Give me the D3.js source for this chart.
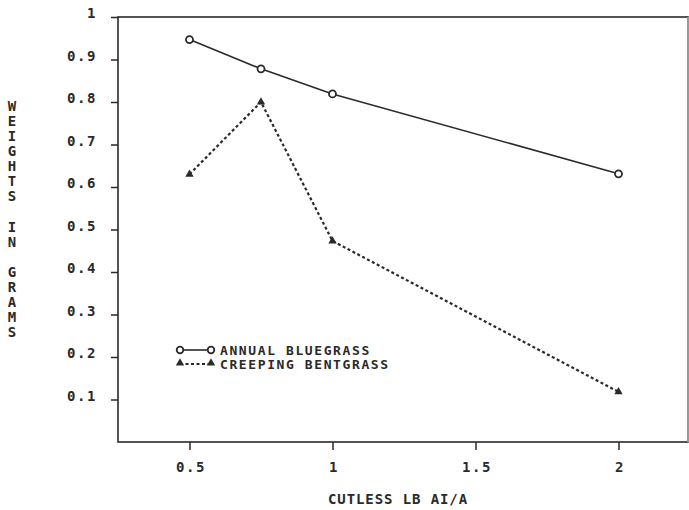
<!DOCTYPE html>
<html><head><meta charset="utf-8">
<script src="https://cdn.jsdelivr.net/npm/d3@7"></script>
<style>
html,body{margin:0;padding:0;background:#fff;}
text{font-family:"DejaVu Sans Mono",monospace;fill:#2a2a2a;font-weight:bold;}
</style></head>
<body><svg id="c" width="689" height="510"></svg>
<script>
const xValues = [0.5, 0.75, 1, 2];
const annualBluegrass = [0.947, 0.878, 0.819, 0.631];
const creepingBentgrass = [0.630, 0.800, 0.473, 0.118];
const seriesNames = ["ANNUAL BLUEGRASS", "CREEPING BENTGRASS"];
const xTicks = [0.5, 1, 1.5, 2];
const yTicks = [0.1,0.2,0.3,0.4,0.5,0.6,0.7,0.8,0.9,1];
const xTitle = "CUTLESS LB AI/A";
const yTitle = "WEIGHTS IN GRAMS";

const svg = d3.select("#c");
const x = d3.scaleLinear().domain([0.25, 2.25]).range([118, 690]);
const y = d3.scaleLinear().domain([0, 1]).range([442, 17]);
const ink = "#2a2a2a";
const tc = "#444";

// frame
svg.append("rect").attr("x", 118).attr("y", 17).attr("width", 570).attr("height", 425)
  .attr("fill", "none").attr("stroke", ink).attr("stroke-width", 1.6);
svg.append("line").attr("x1",688).attr("x2",688).attr("y1",17).attr("y2",442)
  .attr("stroke","#ddd").attr("stroke-width",1);

const yAxis = d3.axisLeft(y).tickValues(yTicks).tickSize(7).tickPadding(14)
  .tickFormat(d => d === 1 ? "1" : d3.format(".1f")(d));
const gy = svg.append("g").attr("transform", "translate(118,0)").call(yAxis);
gy.select(".domain").remove();
gy.selectAll(".tick line").attr("stroke", ink).attr("stroke-width", 1.5);
gy.selectAll(".tick text").attr("font-size", 14).attr("letter-spacing", 1.6).attr("dy", "0.05em")
  .attr("fill", tc);

const xAxis = d3.axisBottom(x).tickValues(xTicks).tickSize(8).tickPadding(12)
  .tickFormat(d => d3.format("")(d));
const gx = svg.append("g").attr("transform", "translate(0,442)").call(xAxis);
gx.select(".domain").remove();
gx.selectAll(".tick line").attr("stroke", ink).attr("stroke-width", 1.5);
gx.selectAll(".tick text").attr("font-size", 14).attr("letter-spacing", 1.6).attr("fill", tc)
  .attr("dx", 1);

// axis titles
svg.append("text").attr("x", 398).attr("y", 504).attr("text-anchor", "middle")
  .attr("font-size", 14).attr("letter-spacing", 0.9).attr("fill", tc).text(xTitle);
const chars = yTitle.split("");
svg.append("g").selectAll("text").data(chars).join("text")
  .attr("x", 12).attr("y", (d, i) => 111 + i * 15.07).attr("text-anchor", "middle")
  .attr("font-size", 14).attr("fill", tc).text(d => d);

// lines
const line = d3.line().x(d => x(d[0])).y(d => y(d[1]));
const abData = xValues.map((v, i) => [v, annualBluegrass[i]]);
const cbData = xValues.map((v, i) => [v, creepingBentgrass[i]]);
svg.append("path").datum(abData).attr("d", line).attr("fill", "none")
  .attr("stroke", ink).attr("stroke-width", 1.6);
svg.append("path").datum(cbData).attr("d", line).attr("fill", "none")
  .attr("stroke", ink).attr("stroke-width", 2.2).attr("stroke-dasharray", "3,2.5");

const tri = d3.symbol().type(d3.symbolTriangle).size(30);
svg.append("g").selectAll("circle").data(abData).join("circle")
  .attr("cx", d => x(d[0])).attr("cy", d => y(d[1])).attr("r", 3.5)
  .attr("fill", "#fff").attr("stroke", ink).attr("stroke-width", 1.8);
svg.append("g").selectAll("path").data(cbData).join("path")
  .attr("d", tri).attr("transform", d => `translate(${x(d[0])},${y(d[1])})`).attr("fill", ink);

// legend
const lg = svg.append("g");
lg.append("line").attr("x1", 180).attr("x2", 211).attr("y1", 350).attr("y2", 350)
  .attr("stroke", ink).attr("stroke-width", 1.6);
lg.selectAll("circle").data([180, 211]).join("circle").attr("cx", d => d).attr("cy", 350).attr("r", 3.3)
  .attr("fill", "#fff").attr("stroke", ink).attr("stroke-width", 1.8);
lg.append("line").attr("x1", 180).attr("x2", 211).attr("y1", 364).attr("y2", 364)
  .attr("stroke", ink).attr("stroke-width", 1.8).attr("stroke-dasharray", "3,2.5");
lg.selectAll("path").data([180, 211]).join("path").attr("d", tri)
  .attr("transform", d => `translate(${d},363)`).attr("fill", ink);
lg.selectAll("text").data(seriesNames).join("text")
  .attr("x", 220).attr("y", (d, i) => 355 + i * 14).attr("font-size", 13).attr("letter-spacing", 1.6)
  .attr("fill", tc).text(d => d);
</script></body></html>
